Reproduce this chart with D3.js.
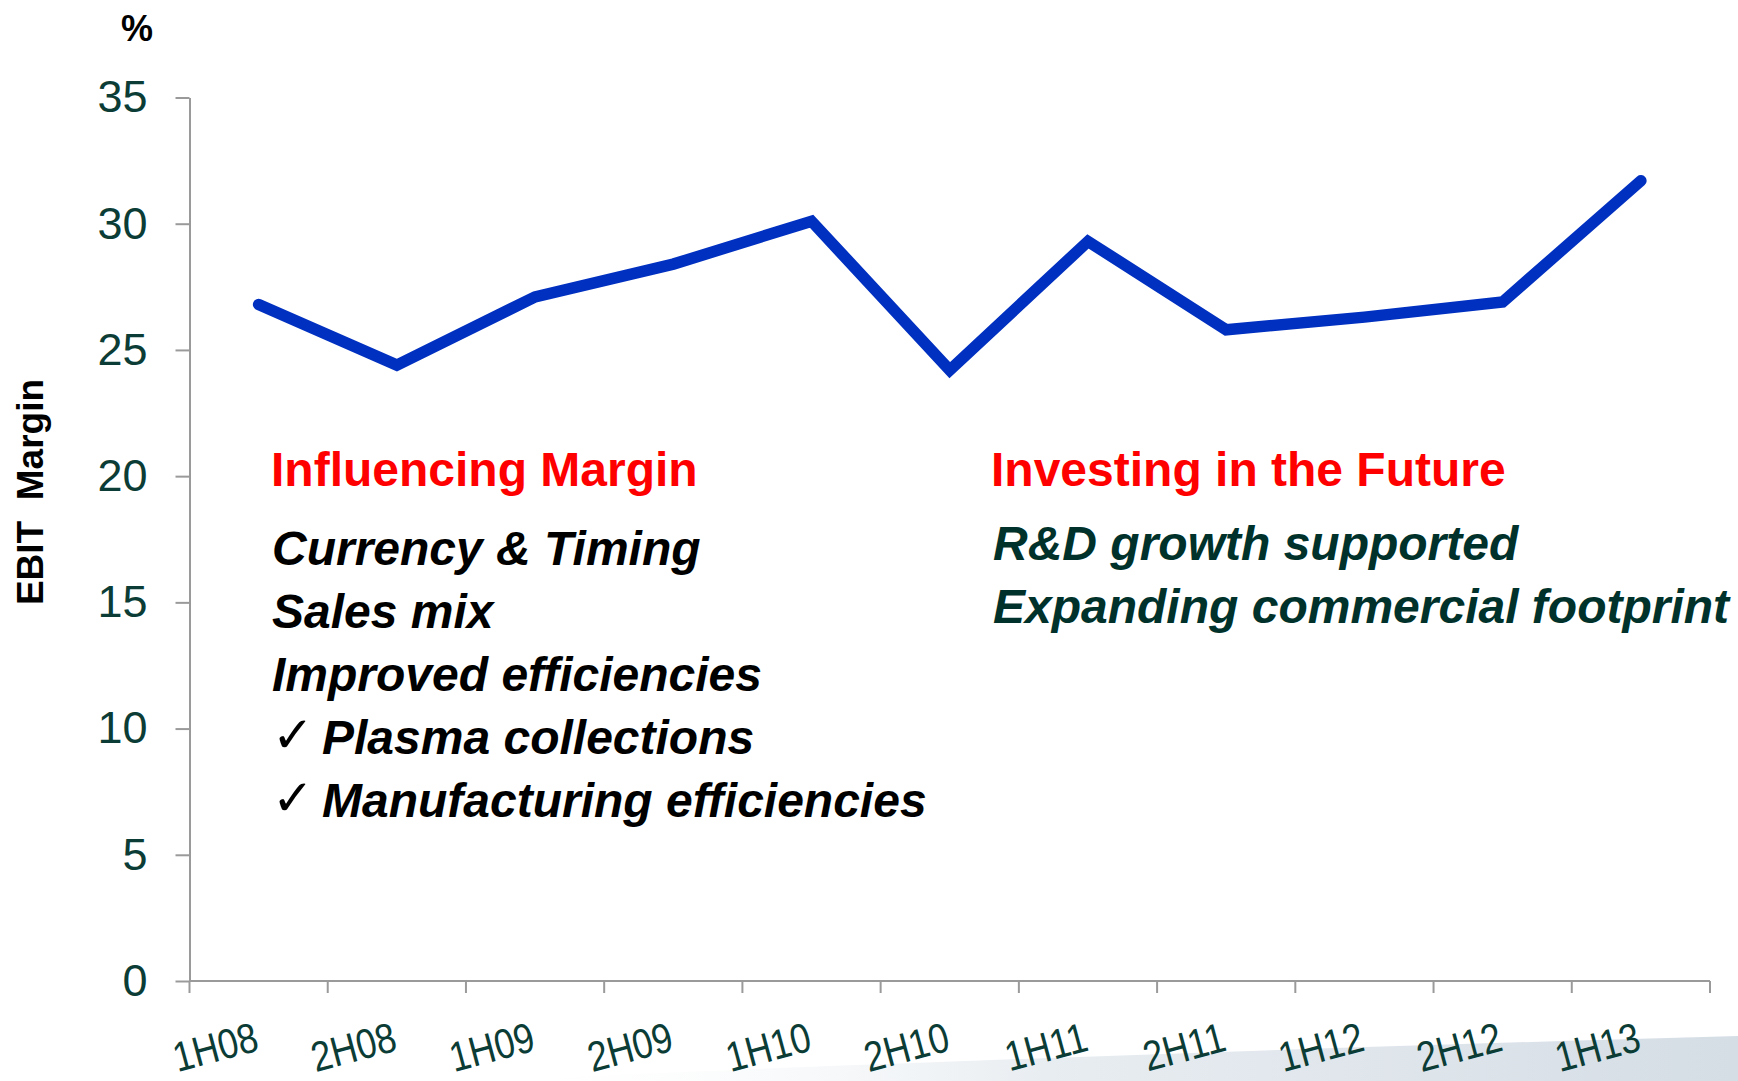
<!DOCTYPE html>
<html>
<head>
<meta charset="utf-8">
<script src="https://cdn.jsdelivr.net/npm/d3@7"></script>
<style>
  html, body { margin: 0; padding: 0; background: #ffffff; }
  svg { display: block; }
</style>
</head>
<body>
<svg id="chart" width="1738" height="1081"></svg>
<script>
// ---- data ----
const categories = ["1H08","2H08","1H09","2H09","1H10","2H10","1H11","2H11","1H12","2H12","1H13"];
const ebitMargin = [26.8, 24.4, 27.1, 28.4, 30.1, 24.2, 29.3, 25.8, 26.3, 26.9, 31.7];
const yTicks = [0, 5, 10, 15, 20, 25, 30, 35];
const leftTitle = "Influencing Margin";
const leftItems = [
  {check: false, text: "Currency & Timing"},
  {check: false, text: "Sales mix"},
  {check: false, text: "Improved efficiencies"},
  {check: true,  text: "Plasma collections"},
  {check: true,  text: "Manufacturing efficiencies"}
];
const rightTitle = "Investing in the Future";
const rightItems = ["R&D growth supported", "Expanding commercial footprint"];

// ---- layout ----
const FONT = "'Liberation Sans', Arial, Helvetica, sans-serif";
const svg = d3.select("#chart");
const plotL = 189.5, plotR = 1710, plotT = 97.5, plotB = 981;

// background swoosh decoration
const defs = svg.append("defs");
const grad = defs.append("linearGradient").attr("id", "swoosh").attr("x1", "0").attr("x2", "1").attr("y1", "0").attr("y2", "0");
grad.append("stop").attr("offset", "0").attr("stop-color", "#ffffff").attr("stop-opacity", 0);
grad.append("stop").attr("offset", "0.45").attr("stop-color", "#e8edf1").attr("stop-opacity", 1);
grad.append("stop").attr("offset", "1").attr("stop-color", "#d5dde5").attr("stop-opacity", 1);
svg.append("path")
  .attr("d", "M480,1081 C800,1066 1300,1048 1738,1036 L1738,1081 Z")
  .attr("fill", "url(#swoosh)");

const x = d3.scaleBand().domain(categories).range([plotL, plotR]).padding(0);
const y = d3.scaleLinear().domain([0, 35]).range([plotB, plotT]);
const bw = x.bandwidth();

// y axis
const yAxis = d3.axisLeft(y).tickValues(yTicks).tickSize(14).tickSizeOuter(0).tickPadding(28);
const gy = svg.append("g").attr("transform", `translate(${plotL},0)`).call(yAxis);
gy.select(".domain").attr("stroke", "#9a9a9a").attr("stroke-width", 2);
gy.selectAll(".tick line").attr("stroke", "#9a9a9a").attr("stroke-width", 2);
gy.selectAll(".tick text")
  .attr("font-family", FONT).attr("font-size", 45).attr("fill", "#0b3c35");

// x axis line + boundary ticks
const gx = svg.append("g");
gx.append("line").attr("x1", plotL).attr("x2", plotR).attr("y1", plotB).attr("y2", plotB)
  .attr("stroke", "#9a9a9a").attr("stroke-width", 2);
const bounds = categories.map(d => x(d)).concat([x.range()[1]]);
gx.selectAll("line.bt").data(bounds).join("line").attr("class", "bt")
  .attr("x1", d => d).attr("x2", d => d).attr("y1", plotB).attr("y2", plotB + 12)
  .attr("stroke", "#9a9a9a").attr("stroke-width", 2);
gx.selectAll("text.xl").data(categories).join("text").attr("class", "xl")
  .attr("transform", d => `translate(${x(d) + bw / 2 + 2},1050) rotate(-15) scale(0.9,1.05)`)
  .attr("text-anchor", "end")
  .attr("font-family", FONT).attr("font-size", 40).attr("fill", "#0b3c35")
  .text(d => d);

// line
const line = d3.line().x((d, i) => x(categories[i]) + bw / 2).y(d => y(d));
svg.append("path").datum(ebitMargin)
  .attr("d", line)
  .attr("fill", "none").attr("stroke", "#0030c0").attr("stroke-width", 11.5)
  .attr("stroke-linejoin", "miter").attr("stroke-linecap", "round");

// axis titles
svg.append("text").attr("x", 137).attr("y", 41).attr("text-anchor", "middle")
  .attr("font-family", FONT).attr("font-weight", "bold").attr("font-size", 36).attr("fill", "#000")
  .text("%");
svg.append("text").attr("transform", "translate(43,492) rotate(-90)")
  .attr("text-anchor", "middle").style("white-space", "pre")
  .attr("font-family", FONT).attr("font-weight", "bold").attr("font-size", 37).attr("fill", "#000")
  .text("EBIT  Margin");

// left annotation
svg.append("text").attr("x", 271).attr("y", 486)
  .attr("font-family", FONT).attr("font-weight", "bold").attr("font-size", 48).attr("fill", "#ff0000")
  .text(leftTitle);
const lineGap = 63.1;
leftItems.forEach((it, i) => {
  const by = 565 + i * lineGap;
  if (it.check) {
    svg.append("text").attr("x", 272).attr("y", by - 2)
      .attr("font-family", "'DejaVu Sans', sans-serif").attr("font-size", 50).attr("fill", "#000")
      .text("\u2713");
  }
  svg.append("text").attr("x", it.check ? 322 : 272).attr("y", by)
    .attr("font-family", FONT).attr("font-weight", "bold").attr("font-style", "italic")
    .attr("font-size", 48).attr("fill", "#000")
    .text(it.text);
});

// right annotation
svg.append("text").attr("x", 991).attr("y", 486)
  .attr("font-family", FONT).attr("font-weight", "bold").attr("font-size", 48).attr("fill", "#ff0000")
  .text(rightTitle);
rightItems.forEach((t, i) => {
  svg.append("text").attr("x", 993).attr("y", 559.5 + i * 63.2)
    .attr("font-family", FONT).attr("font-weight", "bold").attr("font-style", "italic")
    .attr("font-size", 48).attr("fill", "#00322b")
    .text(t);
});
</script>
</body>
</html>
